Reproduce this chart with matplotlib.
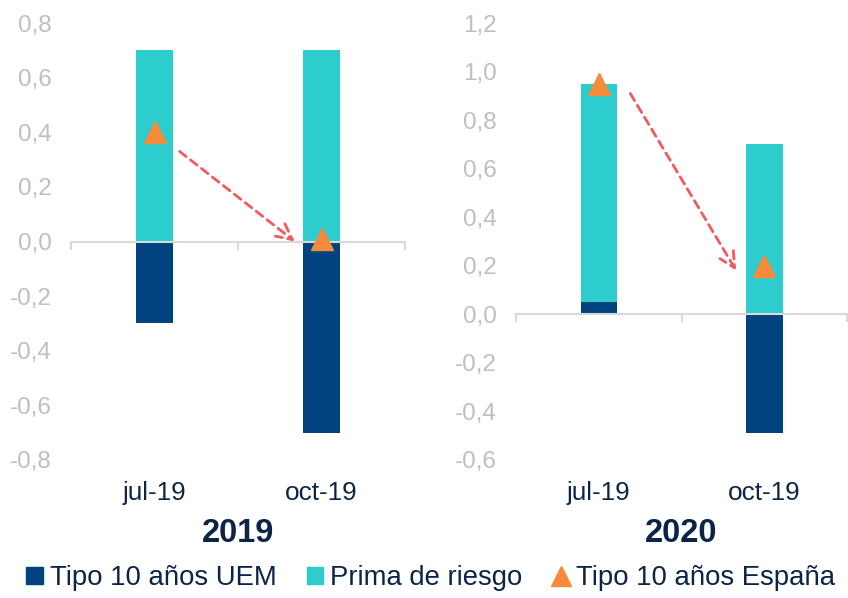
import matplotlib.pyplot as plt
from matplotlib.patches import Patch
from matplotlib.lines import Line2D
from matplotlib.transforms import blended_transform_factory

plt.rcParams['font.family'] = ['Liberation Sans', 'DejaVu Sans']

categories = ['jul-19', 'oct-19']
years = ['2019', '2020']

# valores por panel
uem = {'2019': [-0.30, -0.70], '2020': [0.05, -0.49]}
prima = {'2019': [0.70, 0.70], '2020': [0.90, 0.70]}
espana = {'2019': [0.40, 0.01], '2020': [0.95, 0.20]}

ylims = {'2019': (-0.8, 0.8), '2020': (-0.6, 1.2)}

c_uem = '#00437F'
c_prima = '#2ECDCD'
c_esp = '#F68B3B'
c_arrow = '#F05A5F'
c_grey = '#D9D9D9'
c_tick = '#BFBFBF'
c_text = '#0B2447'

fig = plt.figure(figsize=(8.48, 5.98), dpi=100)
ax1 = fig.add_axes([0.0837, 0.2308, 0.394, 0.7307])
ax2 = fig.add_axes([0.6085, 0.2308, 0.3905, 0.7307])

# flechas (inicio, fin) en coordenadas de datos
arrows = {'2019': ((0.15, 0.33), (0.84, 0.0)),
          '2020': ((0.19, 0.91), (0.83, 0.18))}

for ax, yr in zip([ax1, ax2], years):
    x = range(len(categories))
    u = uem[yr]
    p = prima[yr]
    bottom = [max(v, 0) for v in u]
    ax.bar(x, u, width=0.22, color=c_uem, zorder=1)
    ax.bar(x, p, width=0.22, bottom=bottom, color=c_prima, zorder=1)
    ax.plot(x, espana[yr], linestyle='none', marker='^', markersize=16,
            color=c_esp, zorder=4)

    ax.set_xlim(-0.5, 1.5)
    ax.set_ylim(*ylims[yr])
    lo, hi = ylims[yr]
    ticks = [round(lo + 0.2 * i, 1) for i in range(int(round((hi - lo) / 0.2)) + 1)]
    ax.set_yticks(ticks)
    ax.set_yticklabels([f'{t:.1f}'.replace('.', ',') for t in ticks])
    ax.tick_params(axis='y', length=0, pad=14, labelsize=17.5, labelcolor=c_tick)

    for s in ['top', 'right', 'left']:
        ax.spines[s].set_visible(False)
    ax.spines['bottom'].set_position(('data', 0))
    ax.spines['bottom'].set_color(c_grey)
    ax.spines['bottom'].set_linewidth(1.5)
    ax.set_xticks([-0.5, 0.5, 1.5])
    ax.set_xticklabels([])
    ax.tick_params(axis='x', direction='out', length=6, width=1.5, color=c_grey)

    tr = blended_transform_factory(ax.transData, ax.transAxes)
    for i, c in enumerate(categories):
        ax.text(i, -0.076, c, transform=tr, ha='center', va='center',
                fontsize=18.8, color=c_text)
    ax.text(0.5, -0.168, yr, transform=ax.transAxes, ha='center', va='center',
            fontsize=23.5, fontweight='bold', color=c_text)

    (x0, y0), (x1, y1) = arrows[yr]
    ax.annotate('', xy=(x1, y1), xytext=(x0, y0),
                arrowprops=dict(arrowstyle='->', linestyle=(0, (3, 2)), color=c_arrow,
                                lw=2, mutation_scale=28, shrinkA=0, shrinkB=0),
                zorder=5)

handles = [Patch(color=c_uem), Patch(color=c_prima),
           Line2D([], [], linestyle='none', marker='^', markersize=15, color=c_esp)]
labels = ['Tipo 10 años UEM', 'Prima de riesgo', 'Tipo 10 años España']
fig.legend(handles, labels, loc='lower center', bbox_to_anchor=(0.508, -0.03), ncol=3,
           frameon=False, fontsize=19.8, handlelength=0.6, handleheight=0.6,
           handletextpad=0.25, columnspacing=1.1, labelcolor=c_text)

plt.savefig('out.png', dpi=100)
